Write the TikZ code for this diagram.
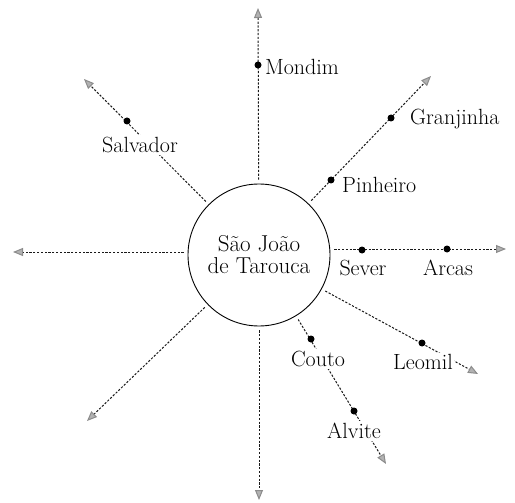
\documentclass[tikz,border=0pt]{standalone}
\usetikzlibrary{arrows.meta}

\tikzset{
    ray/.style={dash pattern=on 2.2pt off 1.6pt, line width=1pt, black!90,
        shorten <=4pt, -{Triangle[length=10pt, width=8pt, color=gray!90, fill=gray!60]}},
    village/.style={circle, fill=black, inner sep=0pt, minimum size=7pt},
    place/.style={fill=white, inner sep=2pt, font=\fontsize{22}{23}\selectfont}
}

\begin{document}
\begin{tikzpicture}[x=1pt, y=-1pt]

    \useasboundingbox (0,0) rectangle (515,503);

    % centre
    \node[circle, draw, line width=0.9pt, minimum size=142pt, align=center,
          font=\fontsize{23}{22}\selectfont] (tarouca) at (259,255)
          {S\~ao Jo\~ao\\de Tarouca};

    % ends of the rays
    \coordinate (north) at (258,8);
    \coordinate (northeast) at (431,76);
    \coordinate (east) at (506,249);
    \coordinate (eastsoutheast) at (478,374);
    \coordinate (southsoutheast) at (386,464);
    \coordinate (south) at (259,500);
    \coordinate (southwest) at (87,421);
    \coordinate (west) at (13,252);
    \coordinate (northwest) at (84,79);

    % rays
    \draw[ray] (tarouca) -- (north);
    \draw[ray] (tarouca) -- (northeast);
    \draw[ray] (tarouca.east |- east) -- (east);
    \draw[ray] (tarouca) -- (eastsoutheast);
    \draw[ray] (tarouca) -- (southsoutheast);
    \draw[ray] (tarouca) -- (south);
    \draw[ray] (tarouca) -- (southwest);
    \draw[ray] (tarouca.west |- west) -- (west);
    \draw[ray] (tarouca) -- (northwest);

    % Mondim
    \node[village] (mondimdot) at (258,65) {};
    \node[place, anchor=west] (mondim) at (263,67) {Mondim};

    % Granjinha and Pinheiro
    \node[village] (granjinhadot) at (391,118) {};
    \node[place, anchor=west] (granjinha) at (408,119) {Granjinha};
    \node[village] (pinheirodot) at (331,180) {};
    \node[place, anchor=west] (pinheiro) at (340,185) {Pinheiro};

    % Sever and Arcas
    \node[village] (severdot) at (362,250) {};
    \node[place] (sever) at (363,268) {Sever};
    \node[village] (arcasdot) at (447,249) {};
    \node[place] (arcas) at (448,268) {Arcas};

    % Leomil
    \node[village] (leomildot) at (422,343) {};
    \node[place, inner sep=1pt] (leomil) at (423,362) {Leomil};

    % Couto and Alvite
    \node[village] (coutodot) at (311,339) {};
    \node[place] (couto) at (318,359) {Couto};
    \node[village] (alvitedot) at (354,411) {};
    \node[place] (alvite) at (354,431) {Alvite};

    % Salvador
    \node[village] (salvadordot) at (127,121) {};
    \node[place] (salvador) at (140,145) {Salvador};

\end{tikzpicture}
\end{document}
